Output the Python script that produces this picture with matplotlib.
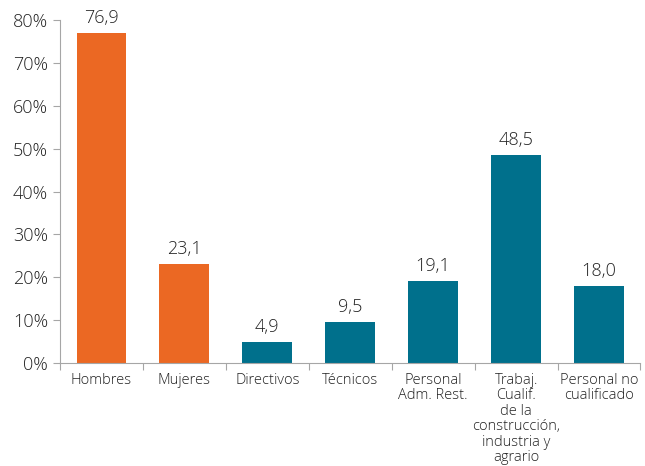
import matplotlib.pyplot as plt
from matplotlib.ticker import FuncFormatter

# Data
categories = ["Hombres", "Mujeres", "Directivos", "Técnicos",
              "Personal\nAdm. Rest.",
              "Trabaj.\nCualif.\nde la\nconstrucción,\nindustria y\nagrario",
              "Personal no\ncualificado"]
values = [76.9, 23.1, 4.9, 9.5, 19.1, 48.5, 18.0]
groups = ["sexo", "sexo", "ocup", "ocup", "ocup", "ocup", "ocup"]

colors = {"sexo": "#EB6823", "ocup": "#00708C"}

plt.rcParams['font.family'] = ['Open Sans', 'DejaVu Sans']
plt.rcParams['font.weight'] = 'light'

fig = plt.figure(figsize=(6.45, 4.66), dpi=100)
ax = fig.add_axes([0.093, 0.221, 0.9, 0.736])

x = range(len(values))
bars = ax.bar(x, values, width=0.6, color=[colors[g] for g in groups])

for xi, v in zip(x, values):
    ax.text(xi, v + 1.4, f"{v:.1f}".replace(".", ","), ha="center", va="bottom",
            fontsize=13, color="#222222")

ax.set_xlim(-0.5, 6.5)
ax.set_ylim(0, 80)
ax.set_yticks(range(0, 81, 10))
ax.yaxis.set_major_formatter(FuncFormatter(lambda v, p: f"{v:.0f}%"))
ax.tick_params(axis="y", labelsize=13, length=5, color="#A6A6A6", labelcolor="#222222")

# category labels as minor ticks, boundary marks as major ticks
ax.set_xticks([i - 0.5 for i in range(len(values) + 1)])
ax.set_xticklabels([])
ax.set_xticks(list(x), minor=True)
ax.set_xticklabels(categories, minor=True, fontsize=10.5, color="#222222",
                   linespacing=1.05)
ax.tick_params(axis="x", which="major", length=5, color="#A6A6A6")
ax.tick_params(axis="x", which="minor", length=0, pad=7)

for side in ["top", "right"]:
    ax.spines[side].set_visible(False)
for side in ["left", "bottom"]:
    ax.spines[side].set_color("#A6A6A6")

fig.savefig("out.png", dpi=100)
